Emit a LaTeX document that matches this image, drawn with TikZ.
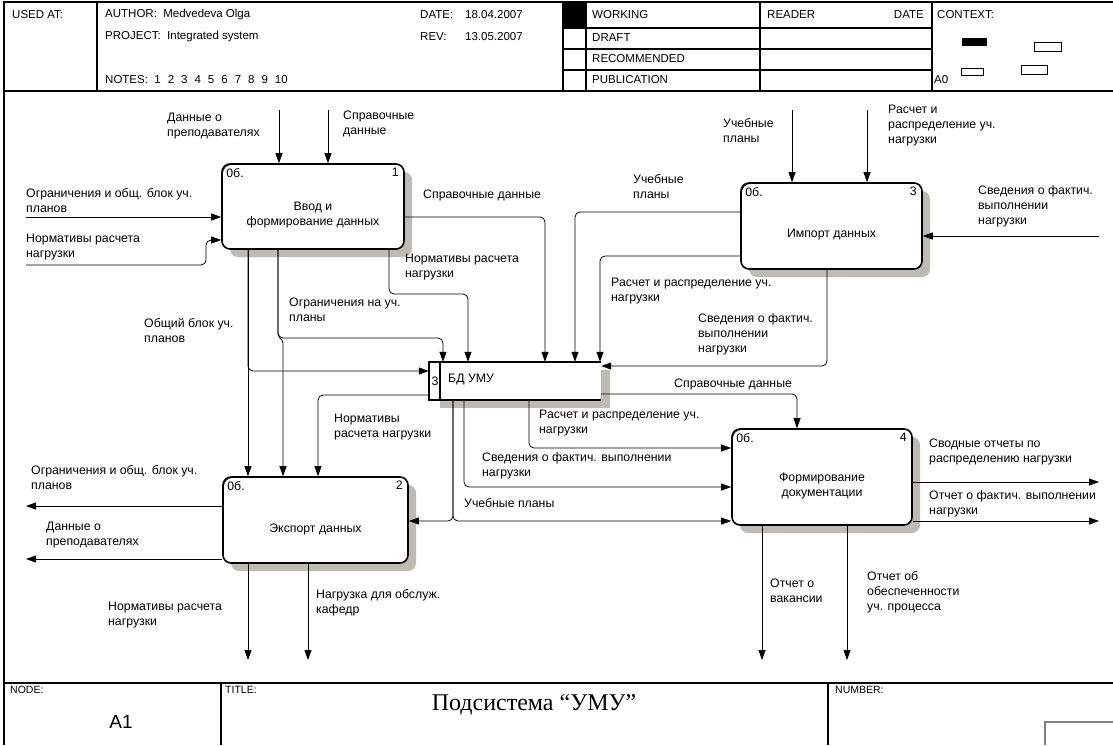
\documentclass[tikz,border=0pt]{standalone}
\usepackage{fontspec}
\setmainfont{Liberation Sans}
\newfontfamily\titleserif{Liberation Serif}
\usetikzlibrary{arrows.meta,shadows,positioning}
\definecolor{shadowgray}{RGB}{190,186,180}
\tikzset{
  actbox/.style={draw,line width=1.6pt,rounded corners=8pt,fill=white,inner sep=0pt,
    drop shadow={shadow xshift=8pt,shadow yshift=-8pt,fill=shadowgray,opacity=1}},
  flow/.style={-{Triangle[length=10pt,width=7pt]},line width=0.8pt,rounded corners=5pt},
  lbl/.style={anchor=north west,align=left,inner sep=0pt,font=\fontsize{12.3}{15}\selectfont},
  boxtitle/.style={align=center,inner sep=0pt,font=\fontsize{12.3}{15}\selectfont},
  hdr/.style={anchor=west,inner sep=0pt,font=\fontsize{11.5}{13}\selectfont},
  small/.style={anchor=west,inner sep=0pt,font=\fontsize{10.5}{12}\selectfont},
  frame/.style={line width=1.2pt},
}

\begin{document}
\begin{tikzpicture}[x=1pt,y=-1pt]
\useasboundingbox (0,0) rectangle (1113,745);
\draw[frame] (4,745) -- (4,2) -- (1113,2);
\draw[frame] (4,91) -- (1113,91);
\draw[frame] (97,2) -- (97,91) (563,2) -- (563,91) (586,2) -- (586,91)
  (760,2) -- (760,91) (932,2) -- (932,91);
\draw[frame] (563,28) -- (932,28) (563,49) -- (932,49) (563,70) -- (932,70);
\fill (563,2) rectangle (586,28);
\fill (962,38) rectangle (987,46);
\draw (1034,42) rectangle (1061,51) (961,68) rectangle (983,75) (1021,65) rectangle (1047,74);
\draw[frame] (4,683) -- (1113,683);
\draw[frame] (221,683) -- (221,745) (828,683) -- (828,745);
\draw[gray,line width=1.2pt] (1045,745) -- (1045,722) -- (1113,722);

\node[hdr] (usedat) at (12,15) {USED AT:};
\node[hdr] (author) at (105,15) {AUTHOR:\ \ Medvedeva Olga};
\node[hdr] (project) at (105,37) {PROJECT:\ \ Integrated system};
\node[hdr] (notes) at (105,80) {NOTES:\ \ 1\hspace{7pt}2\hspace{7pt}3\hspace{7pt}4\hspace{7pt}5\hspace{7pt}6\hspace{7pt}7\hspace{7pt}8\hspace{7pt}9\hspace{7pt}10};
\node[hdr] (date) at (420,15) {DATE:};
\node[hdr] (dateval) at (465,15) {18.04.2007};
\node[hdr] (rev) at (420,37) {REV:};
\node[hdr] (revval) at (465,37) {13.05.2007};
\node[hdr] (working) at (592,15) {WORKING};
\node[hdr] (draft) at (592,38) {DRAFT};
\node[hdr] (recom) at (592,59) {RECOMMENDED};
\node[hdr] (public) at (592,80) {PUBLICATION};
\node[hdr] (reader) at (767,15) {READER};
\node[hdr,anchor=east] (rdate) at (924,15) {DATE};
\node[hdr] (context) at (937,15) {CONTEXT:};
\node[hdr] (ctxnode) at (934,80) {A0};
\node[small] (nodelbl) at (10,690) {NODE:};
\node[inner sep=0pt,font=\fontsize{19}{20}\selectfont] (nodeval) at (121,722) {A1};
\node[small] (titlelbl) at (225,690) {TITLE:};
\node[inner sep=0pt,font=\titleserif\fontsize{24}{26}\selectfont] (titleval) at (534,705) {Подсистема “УМУ”};
\node[small] (numberlbl) at (835,690) {NUMBER:};

\node[actbox,minimum width=182pt,minimum height=85pt] (b1) at (313,206.5) {};
\node[actbox,minimum width=185pt,minimum height=86pt] (b2) at (315.5,520) {};
\node[actbox,minimum width=181pt,minimum height=86pt] (b3) at (831.5,226) {};
\node[actbox,minimum width=180pt,minimum height=96pt] (b4) at (822,477) {};
\foreach \b/\n in {b1/1,b2/2,b3/3,b4/4}{
  \draw[line width=0.6pt] ([shift={(1.5pt,-9pt)}]\b.north west) to[bend left=35] ([shift={(9pt,-1.5pt)}]\b.north west);
  \node[lbl] (\b ref) at ([shift={(5pt,-5pt)}]\b.north west) {0б.};
  \node[lbl,anchor=north east] (\b num) at ([shift={(-6pt,-5pt)}]\b.north east) {\n};
}
\node[boxtitle] (b1title) at ([yshift=-9pt]b1.center) {Ввод и\\формирование данных};
\node[boxtitle] (b2title) at ([yshift=-9pt]b2.center) {Экспорт данных};
\node[boxtitle] (b3title) at ([yshift=-9pt]b3.center) {Импорт данных};
\node[boxtitle] (b4title) at ([yshift=-9pt]b4.center) {Формирование\\документации};

\fill[shadowgray] (440,370) rectangle (610,408);
\node[fill=white,minimum width=172pt,minimum height=38pt,inner sep=0pt] (db) at (515,381) {};
\draw[line width=1.6pt] (db.north east) -- (db.north west) -- (db.south west) -- (db.south east);
\draw[line width=1.6pt] ([xshift=11pt]db.north west) -- ([xshift=11pt]db.south west);
\node[boxtitle] (dbnum) at (435,381) {3};
\node[lbl,anchor=west] (dbname) at (448,379) {БД УМУ};

\coordinate (t1) at (279,110);
\coordinate (t2) at (328,110);
\coordinate (t3) at (792,110);
\coordinate (t4) at (867,110);
\coordinate (i1) at (26,217);
\coordinate (i2) at (26,265);
\coordinate (i2b) at (206,240);
\coordinate (i3) at (1099,236);
\coordinate (o1) at (26,506);
\coordinate (o2) at (26,559);
\coordinate (o3) at (248,660);
\coordinate (o4) at (308,660);
\coordinate (o5) at (1099,482);
\coordinate (o6) at (1099,521);
\coordinate (o7) at (762,660);
\coordinate (o8) at (847,660);

\draw[flow] (t1) -- (t1 |- b1.north);
\draw[flow] (t2) -- (t2 |- b1.north);
\draw[flow] (i1) -- (i1 -| b1.west);
\draw[flow] (i2) -| (i2b) -- (i2b -| b1.west);
\draw[flow] (t3) -- (t3 |- b3.north);
\draw[flow] (t4) -- (t4 |- b3.north);
\draw[flow] (i3) -- (i3 -| b3.east);

\draw[flow] (b1.east |- 0,217) -| (db.north -| 545,0);
\draw[flow] (b1.south -| 389,0) |- (468,294) -- (db.north -| 468,0);
\draw[flow] (b1.south -| 278,0) |- (443,338) -- (db.north -| 443,0);
\draw[flow,rounded corners=2pt] (b1.south -| 278,0) -- (278,336) -- (283,341) -- (b2.north -| 283,0);
\draw[flow] (b1.south -| 248,0) |- (db.west |- 0,371);
\draw[flow] (b1.south -| 248,0) -- (b2.north -| 248,0);

\draw[flow] (b3.west |- 0,212) -| (db.north -| 575,0);
\draw[flow] (b3.west |- 0,256) -| (db.north -| 600,0);
\draw[flow] (b3.south -| 827,0) |- (db.east |- 0,366);

\draw[flow] (db.west |- 0,395) -| (b2.north -| 318,0);
\draw[flow] (db.east |- 0,394) -| (b4.north -| 797,0);
\draw[flow] (db.south -| 529,0) |- (b4.west |- 0,448);
\draw[flow] (db.south -| 464,0) |- (b4.west |- 0,487);
\draw[flow] (db.south -| 453,0) |- (b4.west |- 0,521);
\draw[flow] (db.south -| 453,0) |- (b2.east |- 0,521);

\draw[flow] (b2.west |- o1) -- (o1);
\draw[flow] (b2.west |- o2) -- (o2);
\draw[flow] (o3 |- b2.south) -- (o3);
\draw[flow] (o4 |- b2.south) -- (o4);
\draw[flow] (b4.east |- o5) -- (o5);
\draw[flow] (b4.east |- o6) -- (o6);
\draw[flow] (o7 |- b4.south) -- (o7);
\draw[flow] (o8 |- b4.south) -- (o8);

\node[lbl] (teachin) at (167,113) {Данные о\\преподавателях};
\node[lbl] (refin) at (343,111) {Справочные\\данные};
\node[lbl] (limitsin) at (26,188) {Ограничения и общ. блок уч.\\планов};
\node[lbl] (normsin) at (26,234) {Нормативы расчета\\нагрузки};
\node[lbl] (refout) at (423,190) {Справочные данные};
\node[lbl] (normsout) at (405,254) {Нормативы расчета\\нагрузки};
\node[lbl] (limitsout) at (289,298) {Ограничения на уч.\\планы};
\node[lbl] (commonout) at (144,318) {Общий блок уч.\\планов};
\node[lbl] (plansimp) at (633,174) {Учебные\\планы};
\node[lbl] (loadimp) at (611,278) {Расчет и распределение уч.\\нагрузки};
\node[lbl] (factimp) at (698,313) {Сведения о фактич.\\выполнении\\нагрузки};
\node[lbl] (plansin) at (723,118) {Учебные\\планы};
\node[lbl] (loadin) at (888,105) {Расчет и\\распределение уч.\\нагрузки};
\node[lbl] (factin) at (978,185) {Сведения о фактич.\\выполнении\\нагрузки};
\node[lbl] (normsdb) at (334,414) {Нормативы\\расчета нагрузки};
\node[lbl] (refdb) at (674,379) {Справочные данные};
\node[lbl] (loaddb) at (539,410) {Расчет и распределение уч.\\нагрузки};
\node[lbl] (factdb) at (482,452) {Сведения о фактич. выполнении\\нагрузки};
\node[lbl] (plansdb) at (464,498) {Учебные планы};
\node[lbl] (limitsexp) at (31,465) {Ограничения и общ. блок уч.\\планов};
\node[lbl] (teachexp) at (46,522) {Данные о\\преподавателях};
\node[lbl] (normsexp) at (108,602) {Нормативы расчета\\нагрузки};
\node[lbl] (deptexp) at (316,589) {Нагрузка для обслуж.\\кафедр};
\node[lbl] (summary) at (929,439) {Сводные отчеты по\\распределению нагрузки};
\node[lbl] (factrep) at (929,490) {Отчет о фактич. выполнении\\нагрузки};
\node[lbl] (vacancy) at (770,579) {Отчет о\\вакансии};
\node[lbl] (supply) at (867,571) {Отчет об\\обеспеченности\\уч. процесса};
\end{tikzpicture}
\end{document}
